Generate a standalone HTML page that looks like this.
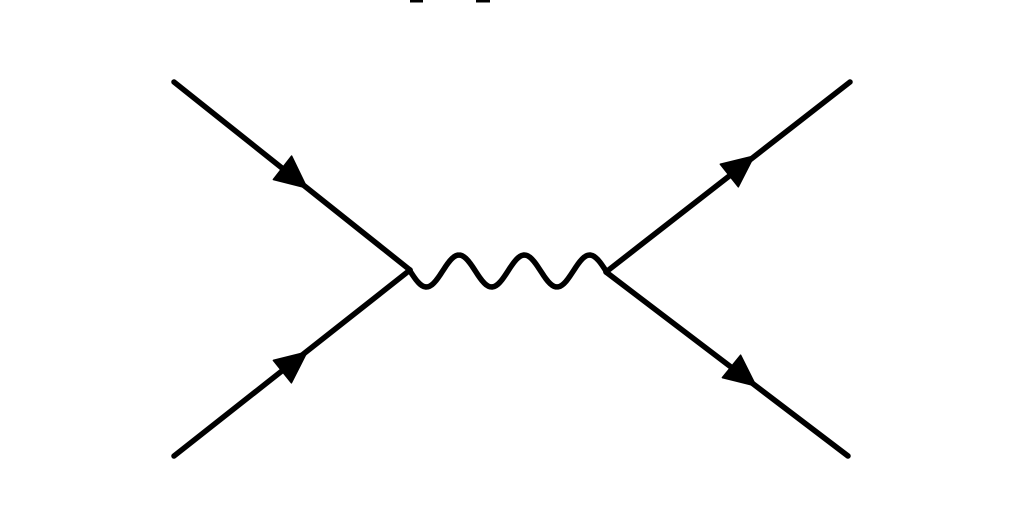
<!DOCTYPE html>
<html><head><meta charset="utf-8"><style>html,body{margin:0;padding:0;background:#fff;width:1024px;height:512px;overflow:hidden}</style></head>
<body>
<svg width="1024" height="512" viewBox="0 0 1024 512" xmlns="http://www.w3.org/2000/svg">
<rect x="410" y="0" width="13" height="2.5" fill="#000"/>
<rect x="476" y="0" width="14" height="2.5" fill="#000"/>
<g stroke="#000" stroke-width="5.5" stroke-linecap="round" stroke-linejoin="round" fill="none">
<line x1="174" y1="82" x2="410" y2="270"/>
<line x1="174" y1="456" x2="410" y2="270"/>
<line x1="606" y1="272" x2="850" y2="82"/>
<line x1="606" y1="272" x2="848" y2="456"/>
<path id="w" d=""/>
</g>
<g fill="#000" stroke="#000" stroke-width="1.5" stroke-linejoin="round">
<polygon points="307,188 273.4,179.5 291.6,156.1"/>
<polygon points="307,352 291.4,382.8 273.4,360.4"/>
<polygon points="754,156 738.3,186.8 720.3,164.2"/>
<polygon points="756,386 722.4,377.6 740.6,355.2"/>
</g>
<script>
var d="M410 270";for(var x=410;x<=606;x+=2){var y=271+16*Math.sin(2*Math.PI*(x-410)/65.33);d+=" L"+x+" "+y.toFixed(2);}
document.getElementById("w").setAttribute("d",d);
</script>
</svg>
</body></html>
